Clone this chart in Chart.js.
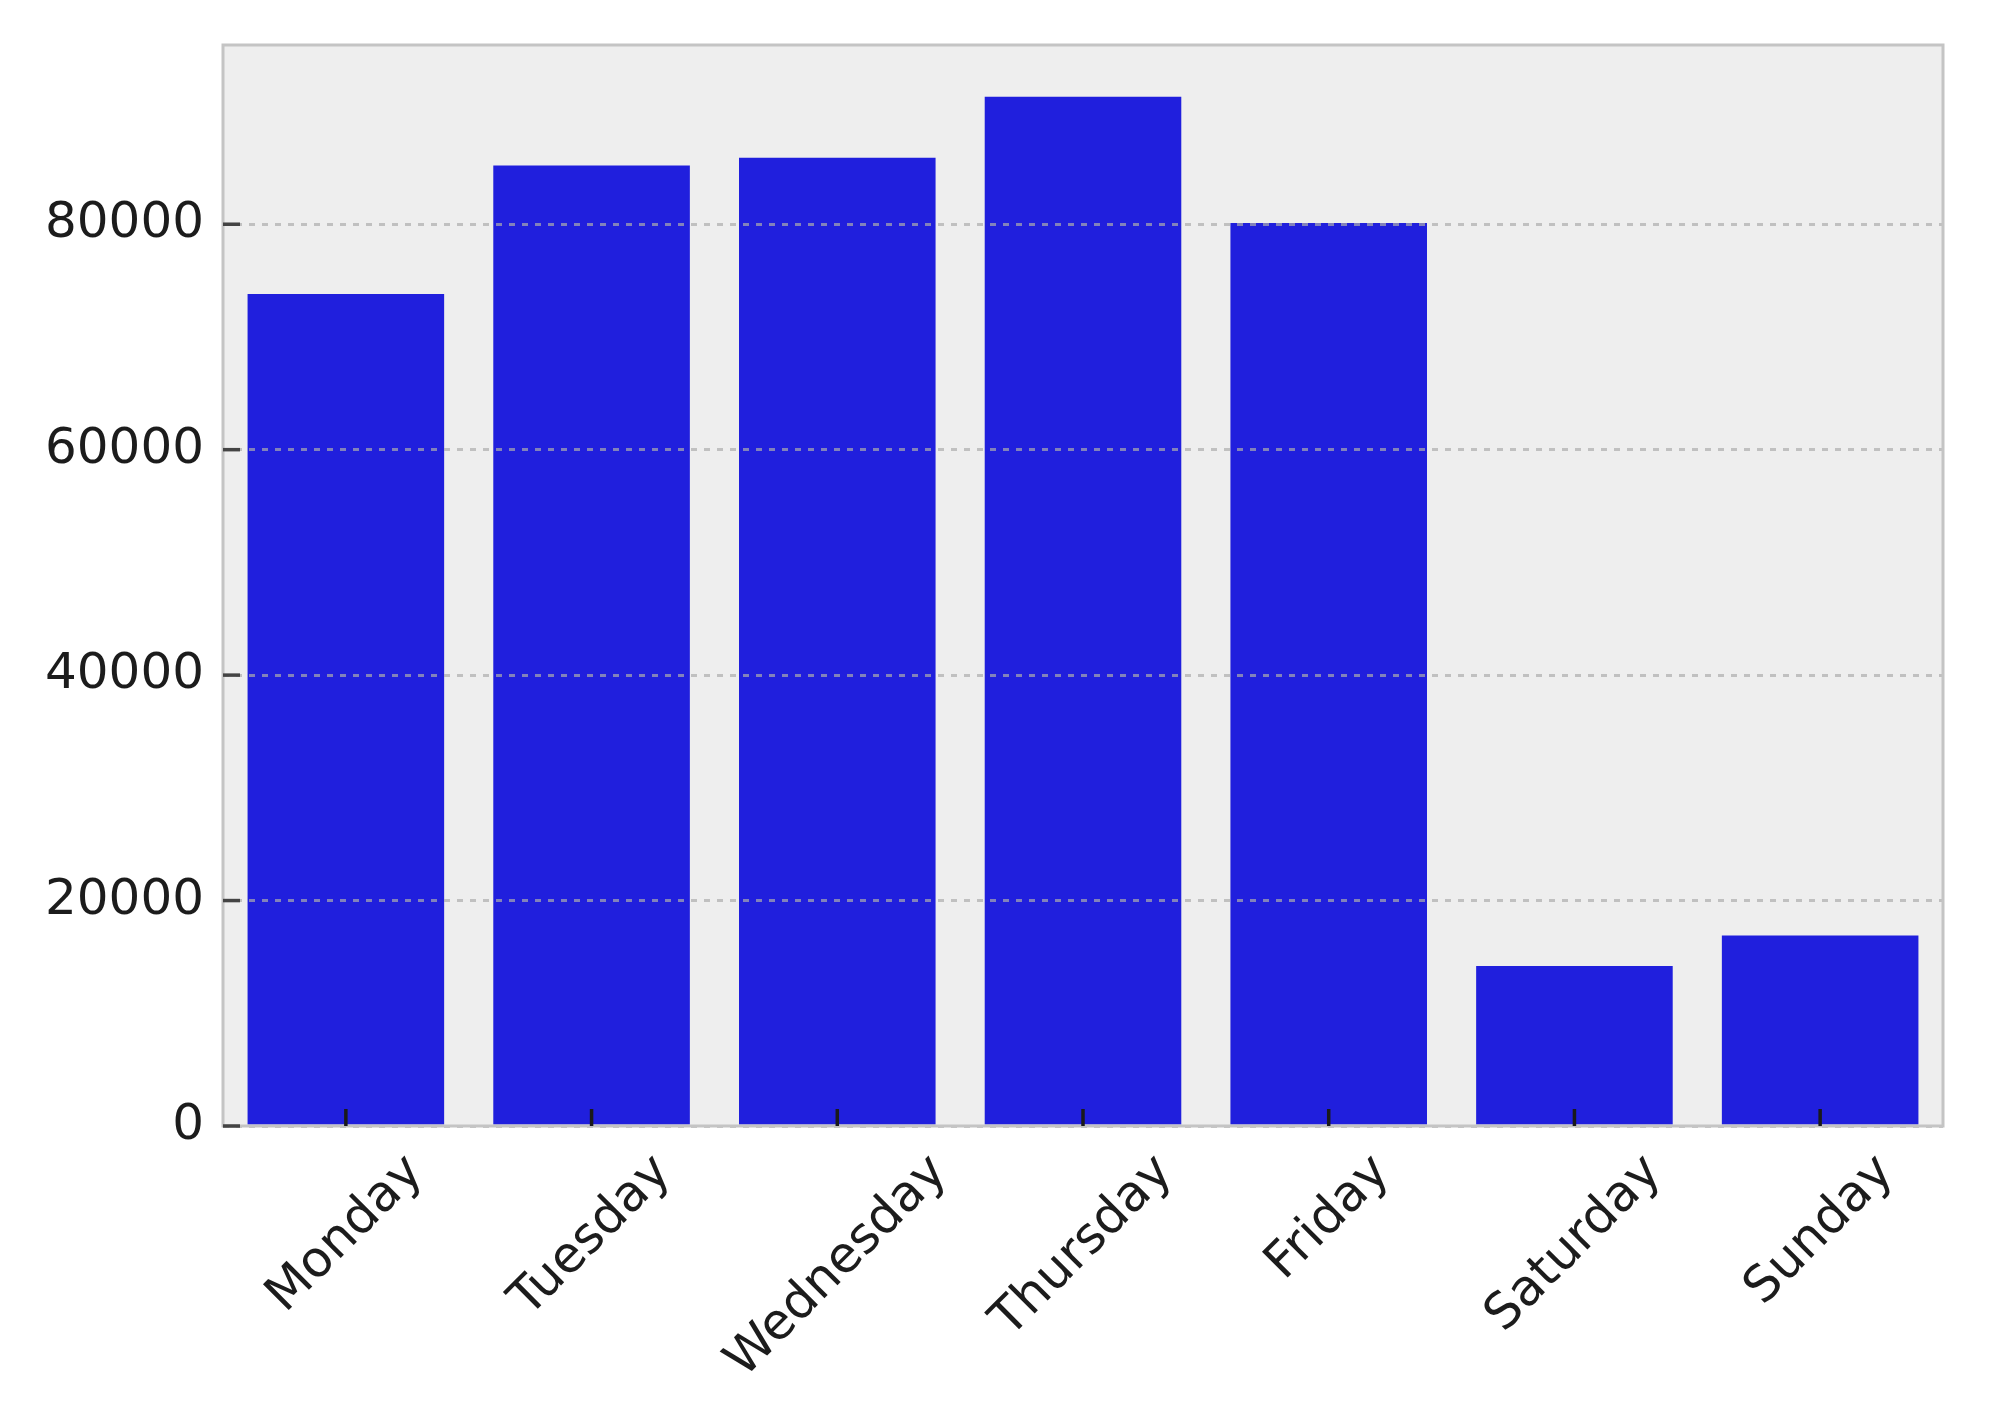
<!DOCTYPE html>
<html>
<head>
<meta charset="utf-8">
<script src="https://cdn.jsdelivr.net/npm/chart.js@4.4.1/dist/chart.umd.min.js"></script>
<style>
  html, body { margin: 0; padding: 0; background: #ffffff; }
</style>
</head>
<body>
<canvas id="dayChart" width="1992" height="1404"></canvas>
<script>
// values
const days = ['Monday', 'Tuesday', 'Wednesday', 'Thursday', 'Friday', 'Saturday', 'Sunday'];
const counts = [73800, 85200, 85900, 91300, 80100, 14200, 16900];
const yTicks = [0, 20000, 40000, 60000, 80000];
const yMax = 95900;

const fontSize = 50;
const labelFont = fontSize + 'px "DejaVu Sans"';
const textColor = '#1c1c1c';

// plot background + frame, drawn around the datasets
const frame = {
  id: 'frame',
  beforeDraw(chart) {
    const { ctx, chartArea: a } = chart;
    ctx.save();
    ctx.fillStyle = '#eeeeee';
    ctx.fillRect(a.left, a.top, a.right - a.left, a.bottom - a.top);
    ctx.restore();
  },
  afterDraw(chart) {
    const { ctx, chartArea: a } = chart;
    const xScale = chart.scales.x;
    const yScale = chart.scales.y;
    ctx.save();

    // frame (all four sides)
    ctx.strokeStyle = '#c4c4c4';
    ctx.lineWidth = 3;
    ctx.strokeRect(a.left, a.top, a.right - a.left, a.bottom - a.top);

    // inward tick marks
    ctx.strokeStyle = '#1a1a1a';
    ctx.lineWidth = 3.5;
    xScale.ticks.forEach((t, i) => {
      const x = xScale.getPixelForTick(i);
      ctx.beginPath();
      ctx.moveTo(x, a.bottom);
      ctx.lineTo(x, a.bottom - 17);
      ctx.stroke();
    });
    ctx.strokeStyle = '#444444';
    yScale.ticks.forEach((t, i) => {
      const y = yScale.getPixelForTick(i);
      ctx.beginPath();
      ctx.moveTo(a.left, y);
      ctx.lineTo(a.left + 17, y);
      ctx.stroke();
    });

    // y tick labels
    ctx.font = labelFont;
    ctx.fillStyle = textColor;
    ctx.textAlign = 'right';
    ctx.textBaseline = 'middle';
    yScale.ticks.forEach((t, i) => {
      ctx.fillText(String(t.value), a.left - 19, yScale.getPixelForTick(i));
    });

    // x tick labels, rotated 45deg and centred under the tick
    const s = fontSize, asc = 0.76 * s, desc = 0.24 * s, r2 = Math.SQRT2;
    const top = a.bottom + 21;
    ctx.textAlign = 'left';
    ctx.textBaseline = 'alphabetic';
    xScale.ticks.forEach((t, i) => {
      const label = xScale.getLabelForValue(t.value);
      const w = ctx.measureText(label).width;
      const tx = xScale.getPixelForTick(i);
      const ox = tx - (w + desc - asc) / (2 * r2);
      const oy = top + (w + asc) / r2;
      ctx.save();
      ctx.translate(ox, oy);
      ctx.rotate(-Math.PI / 4);
      ctx.fillText(label, 0, 0);
      ctx.restore();
    });

    ctx.restore();
  }
};

const ctx = document.getElementById('dayChart').getContext('2d');
new Chart(ctx, {
  type: 'bar',
  data: {
    labels: days,
    datasets: [{
      data: counts,
      backgroundColor: '#201fdd',
      borderWidth: 0,
      categoryPercentage: 0.8,
      barPercentage: 1.0
    }]
  },
  options: {
    responsive: false,
    animation: false,
    devicePixelRatio: 1,
    layout: { padding: { left: 223, top: 45, right: 49, bottom: 278 } },
    plugins: { legend: { display: false }, tooltip: { enabled: false } },
    scales: {
      x: {
        offset: true,
        grid: { display: false, drawTicks: false },
        border: { display: false },
        ticks: { display: false }
      },
      y: {
        min: 0,
        max: yMax,
        afterBuildTicks: (scale) => {
          scale.ticks = yTicks.map(v => ({ value: v }));
        },
        grid: { color: 'rgba(172,172,172,0.7)', lineWidth: 3, drawTicks: false, z: 1 },
        border: { display: false, dash: [6, 7] },
        ticks: { display: false }
      }
    }
  },
  plugins: [frame]
});
</script>
</body>
</html>
